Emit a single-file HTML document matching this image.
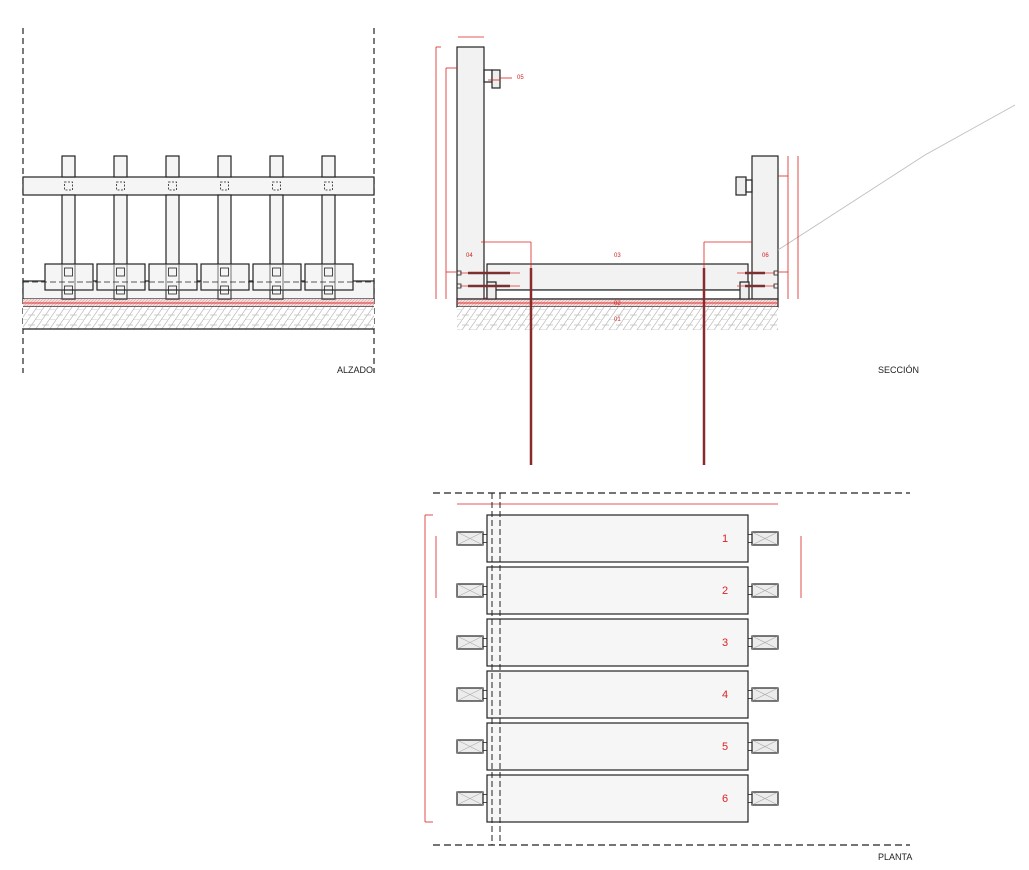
<!DOCTYPE html>
<html><head><meta charset="utf-8"><style>
html,body{margin:0;padding:0;background:#fff;}
svg{display:block;font-family:"Liberation Sans",sans-serif;}
</style></head><body>
<svg id="s" width="1029" height="870" viewBox="0 0 1029 870" xmlns="http://www.w3.org/2000/svg">
<defs>
<pattern id="hatch" width="14" height="10" patternUnits="userSpaceOnUse">
<rect width="14" height="10" fill="#fff"/>
<path d="M0 10 L7 0 M7 10 L14 0 M0 5 L7 5 M7 10 L14 10" stroke="#bbb" stroke-width="0.7"/>
</pattern>
<pattern id="red" width="3" height="3" patternUnits="userSpaceOnUse">
<rect width="3" height="3" fill="#f3dede"/><path d="M0 3 L3 0" stroke="#d88" stroke-width="0.5"/>
</pattern>
</defs>
<g id="g" fill="none" stroke="#222" stroke-width="1.2">
<!-- ALZADO -->
<line x1="23" y1="28" x2="23" y2="373" stroke-dasharray="6,4"/>
<line x1="374" y1="28" x2="374" y2="373" stroke-dasharray="6,4"/>
<rect x="23" y="177" width="351" height="18" fill="#f5f5f5"/>
<rect x="23" y="281" width="351" height="18" fill="#f5f5f5"/>
<rect x="23" y="299" width="351" height="8" fill="url(#red)" stroke="none"/>
<line x1="23" y1="303" x2="374" y2="303" stroke="#d33" stroke-width="1"/>
<line x1="23" y1="307" x2="374" y2="307"/>
<rect x="23" y="307" width="351" height="22" fill="url(#hatch)" stroke="none"/>
<line x1="23" y1="329" x2="374" y2="329"/>
<!-- SECCION -->
<rect x="457" y="47" width="27" height="252" fill="#f2f2f2"/>
<rect x="752" y="156" width="26" height="143" fill="#f2f2f2"/>
<rect x="487" y="264" width="261" height="26" fill="#f2f2f2"/>
<rect x="487" y="290" width="261" height="9" fill="#fff"/>
<rect x="457" y="299" width="321" height="8" fill="url(#red)"/>
<line x1="457" y1="303" x2="778" y2="303" stroke="#d33" stroke-width="1"/>
<rect x="457" y="307" width="321" height="23" fill="url(#hatch)" stroke="none"/>
<rect x="487" y="282" width="9" height="17" fill="#eee"/>
<rect x="740" y="282" width="9" height="17" fill="#eee"/>
<rect x="484" y="70" width="8" height="12"/>
<rect x="492" y="70" width="8" height="18" fill="#eee"/>
<rect x="736" y="177" width="10" height="18" fill="#eee"/>
<rect x="746" y="180" width="6" height="12"/>
<polyline points="778,250 925,155 1015,105" stroke="#bbb" stroke-width="0.8"/>
<!-- PLANTA -->
<line x1="433" y1="493" x2="910" y2="493" stroke-dasharray="7,4"/>
<line x1="433" y1="845" x2="910" y2="845" stroke-dasharray="7,4"/>
</g>
<g fill="#c22" font-size="6">
<text x="466" y="257">04</text><text x="762" y="257">06</text><text x="614" y="257">03</text>
<text x="614" y="305">02</text><text x="614" y="321">01</text><text x="517" y="79">05</text>
</g>
<g fill="#222" font-size="9">
<text x="337" y="373">ALZADO</text><text x="878" y="373">SECCIÓN</text><text x="878" y="860">PLANTA</text>
</g>
<g fill="#d22" font-size="11">
<text x="722" y="542">1</text><text x="722" y="594">2</text><text x="722" y="646">3</text>
<text x="722" y="698">4</text><text x="722" y="750">5</text><text x="722" y="802">6</text>
</g>
</svg>
<script>
var g=document.getElementById('g'),NS='http://www.w3.org/2000/svg';
function el(t,a,p){var e=document.createElementNS(NS,t);for(var k in a)e.setAttribute(k,a[k]);(p||g).appendChild(e);return e;}
// alzado posts and blocks
for(var i=0;i<6;i++){var cx=68+52*i;
 el('rect',{x:cx-6,y:156,width:13,height:21,fill:'#f5f5f5'});
 el('rect',{x:cx-6,y:195,width:13,height:104,fill:'#f5f5f5'});
 el('rect',{x:cx-23,y:264,width:48,height:26,fill:'#f5f5f5'});
 el('line',{x1:cx-6,y1:264,x2:cx-6,y2:299,stroke:'#555','stroke-width':0.8});
 el('line',{x1:cx+7,y1:264,x2:cx+7,y2:299,stroke:'#555','stroke-width':0.8});
 el('rect',{x:cx-3.5,y:182,width:8,height:8,'stroke-dasharray':'2,1.5','stroke-width':0.8});
 el('rect',{x:cx-3.5,y:268,width:8,height:8,'stroke-width':0.8});
 el('rect',{x:cx-3.5,y:286,width:8,height:8,'stroke-width':0.8});
}
el('line',{x1:23,y1:282,x2:374,y2:282,'stroke-dasharray':'6,3','stroke-width':0.8});
// seccion rods
[[531],[704]].forEach(function(a){el('line',{x1:a[0],y1:268,x2:a[0],y2:465,stroke:'#8b2a2a','stroke-width':2.5});});
[[460,520],[737,775]].forEach(function(r){[273,286].forEach(function(y){
 el('line',{x1:r[0],y1:y,x2:r[1],y2:y,stroke:'#d33','stroke-width':0.8});
 el('line',{x1:r[0]+8,y1:y,x2:r[1]-10,y2:y,stroke:'#7a3030','stroke-width':2.5});
 el('rect',{x:(r[0]<600?457:774),y:y-2,width:4,height:4,'stroke-width':0.8});});});
// red dims seccion
var R={stroke:'#d22','stroke-width':0.8};
function rl(x1,y1,x2,y2){el('line',Object.assign({x1:x1,y1:y1,x2:x2,y2:y2},R));}
rl(436,47,436,299);rl(446,68,446,299);rl(446,68,457,68);rl(446,272,457,272);rl(436,47,441,47);
rl(458,37,484,37);rl(488,80,500,80);rl(500,78,512,78);
rl(788,156,788,299);rl(798,156,798,299);rl(778,176,788,176);rl(778,272,788,272);
rl(481,242,531,242);rl(531,242,531,268);rl(704,242,752,242);rl(704,242,704,268);
rl(484,298,487,298);
// planta
el('line',{x1:492,y1:493,x2:492,y2:845,'stroke-dasharray':'6,3','stroke-width':1});
el('line',{x1:500,y1:493,x2:500,y2:845,'stroke-dasharray':'6,3','stroke-width':1});
rl(457,504,778,504);rl(425,515,425,822);rl(425,515,433,515);rl(425,822,433,822);rl(436,536,436,598);rl(801,536,801,598);
for(var j=0;j<6;j++){var y=515+52*j;
 el('rect',{x:487,y:y,width:261,height:47,fill:'#f6f6f6'});
 var cy=y+23.5;
 [[457,483],[752,778]].forEach(function(b){
  el('rect',{x:b[0],y:cy-6.5,width:26,height:13,fill:'#ececec'});
  el('path',{d:'M'+b[0]+' '+(cy-6.5)+'L'+b[1]+' '+(cy+6.5)+'M'+b[0]+' '+(cy+6.5)+'L'+b[1]+' '+(cy-6.5),stroke:'#aaa','stroke-width':0.6});});
 el('rect',{x:483,y:cy-4,width:4,height:8,'stroke-width':0.8});
 el('rect',{x:748,y:cy-4,width:4,height:8,'stroke-width':0.8});
}
el('line',{x1:492,y1:493,x2:492,y2:845,'stroke-dasharray':'6,3','stroke-width':1});
el('line',{x1:500,y1:493,x2:500,y2:845,'stroke-dasharray':'6,3','stroke-width':1});
</script>
</body></html>
